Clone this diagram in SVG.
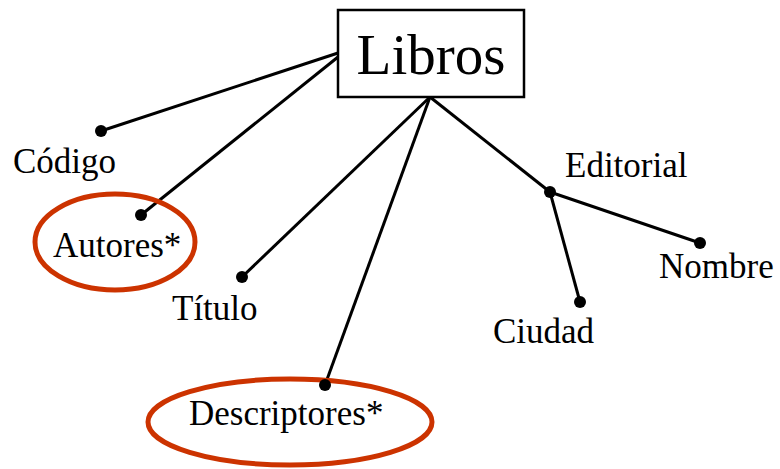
<svg xmlns="http://www.w3.org/2000/svg" width="780" height="469" viewBox="0 0 780 469">
<style>
.lbl{font-family:"Liberation Serif","Times New Roman",serif;font-size:35px;fill:#000}
.ln{stroke:#000;stroke-width:3;fill:none}
.dot{fill:#000}
.ring{fill:none;stroke:#cc3300;stroke-width:5}
</style>
<rect width="780" height="469" fill="#fff"/>
<g id="connectors">
<line class="ln" x1="338" y1="53" x2="101" y2="131"/>
<line class="ln" x1="338" y1="57" x2="141" y2="215"/>
<line class="ln" x1="430" y1="97" x2="242" y2="277"/>
<line class="ln" x1="430" y1="97" x2="325" y2="385"/>
<line class="ln" x1="430" y1="97" x2="550" y2="192"/>
<line class="ln" x1="550" y1="192" x2="700" y2="243"/>
<line class="ln" x1="550" y1="192" x2="580" y2="302"/>
</g>
<g id="libros">
<rect x="338" y="10" width="186" height="87" fill="#fff" stroke="#000" stroke-width="2.5"/>
<text x="431" y="74" text-anchor="middle" style="font-family:'Liberation Serif','Times New Roman',serif;font-size:57px">Libros</text>
</g>
<g id="codigo">
<circle class="dot" cx="101" cy="131" r="6"/>
<text class="lbl" x="13" y="173">Código</text>
</g>
<g id="autores">
<ellipse class="ring" cx="115" cy="242" rx="80" ry="48"/>
<circle class="dot" cx="141" cy="215" r="6"/>
<text class="lbl" x="53" y="257">Autores*</text>
</g>
<g id="titulo">
<circle class="dot" cx="242" cy="277" r="6"/>
<text class="lbl" x="172" y="320">Título</text>
</g>
<g id="descriptores">
<ellipse class="ring" cx="290" cy="422" rx="142" ry="43"/>
<circle class="dot" cx="325" cy="385" r="6"/>
<text class="lbl" x="189" y="425">Descriptores*</text>
</g>
<g id="editorial">
<circle class="dot" cx="550" cy="192" r="6"/>
<text class="lbl" x="565" y="177">Editorial</text>
</g>
<g id="nombre">
<circle class="dot" cx="700" cy="243" r="6"/>
<text class="lbl" x="659" y="278">Nombre</text>
</g>
<g id="ciudad">
<circle class="dot" cx="580" cy="302" r="6"/>
<text class="lbl" x="493" y="343">Ciudad</text>
</g>
</svg>
